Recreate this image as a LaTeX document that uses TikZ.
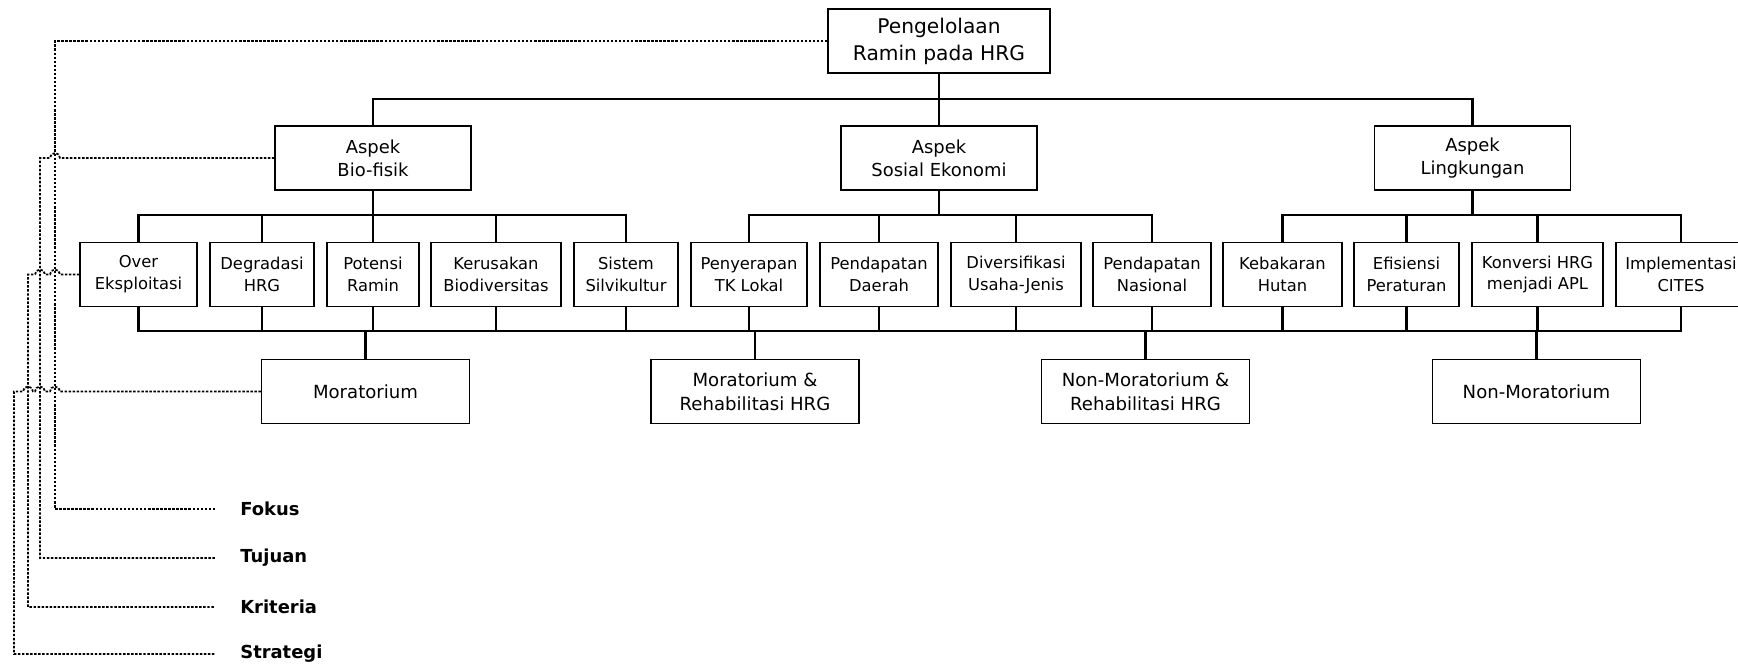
\documentclass[tikz,border=0pt]{standalone}
\usepackage{fontspec}
\setmainfont{DejaVu Sans}
\usetikzlibrary{positioning, calc}
\tikzset{
  box/.style  = {rectangle, draw=black, line width=0.65pt, align=center,
                 inner sep=0pt, minimum height=1.28cm},
  conn/.style = {line width=1.2pt},
  dline/.style = {line width=1pt, dash pattern=on 1.4pt off 0.9pt},
}
\begin{document}
\begin{tikzpicture}[
  x=0.02cm, y=-0.02cm,
  topbox/.style={box, minimum width=4.44cm, font=\fontsize{11.5}{15.3}\selectfont},
  abox/.style={box, minimum width=3.92cm, font=\fontsize{10.2}{13}\selectfont},
  kbox/.style={box, font=\fontsize{9.3}{12.5}\selectfont},
  sbox/.style={box, minimum width=4.16cm, font=\fontsize{10.3}{13.6}\selectfont},
  lvl/.style={inner sep=0pt, font=\fontsize{10.2}{12}\selectfont\bfseries},
]
  \useasboundingbox (0,0) rectangle (1738,667);
  \clip (0,0) rectangle (1738,667);

  % fokus dan tujuan
  \node[topbox] (top) at (939,41) {Pengelolaan\\Ramin pada HRG};
  \node[abox] (bio)  at (373,158)    {Aspek\\Bio-fisik};
  \node[abox] (sos)  at (939,158)    {Aspek\\Sosial Ekonomi};
  \node[abox] (ling) at (1472.5,158) {Aspek\\Lingkungan};

  % kriteria
  \foreach \n/\x/\w/\t in {
      k1/138.5/2.34/{Over\\Eksploitasi},
      k2/262/2.08/{Degradasi\\HRG},
      k3/373/1.84/{Potensi\\Ramin},
      k4/496/2.6/{Kerusakan\\Biodiversitas},
      k5/626/2.08/{Sistem\\Silvikultur},
      k6/749/2.32/{Penyerapan\\TK Lokal},
      k7/879/2.36/{Pendapatan\\Daerah},
      k8/1016/2.6/{Diversifikasi\\Usaha-Jenis},
      k9/1152/2.36/{Pendapatan\\Nasional},
      k10/1282.5/2.38/{Kebakaran\\Hutan},
      k11/1406.5/2.1/{Efisiensi\\Peraturan},
      k12/1537.5/2.62/{Konversi HRG\\menjadi APL},
      k13/1681/2.6/{Implementasi\\CITES}}
    \node[kbox, minimum width=\w cm] (\n) at (\x,274.5) {\t};

  % strategi
  \node[sbox] (s1) at (365.5,391.5)  {Moratorium};
  \node[sbox] (s2) at (755,391.5)    {Moratorium \&\\Rehabilitasi HRG};
  \node[sbox] (s3) at (1145.5,391.5) {Non-Moratorium \&\\Rehabilitasi HRG};
  \node[sbox] (s4) at (1536.5,391.5) {Non-Moratorium};

  \coordinate (busa) at (0,99);
  \coordinate (busb) at (0,215);
  \coordinate (busc) at (0,331);

  \draw[conn] (top.south) -- (sos.north);
  \draw[conn] (bio.north) |- (ling.north |- busa) -- (ling.north);

  \draw[conn] (bio.south) -- (bio.south |- busb);
  \draw[conn] (k1.north) |- (k5.north |- busb) -- (k5.north);
  \draw[conn] (sos.south) -- (sos.south |- busb);
  \draw[conn] (k6.north) |- (k9.north |- busb) -- (k9.north);
  \draw[conn] (ling.south) -- (ling.south |- busb);
  \draw[conn] (k10.north) |- (k13.north |- busb) -- (k13.north);
  \foreach \i in {2,3,4,7,8,11,12}
    \draw[conn] (k\i.north) -- (k\i.north |- busb);

  \draw[conn] (k1.south) |- (k13.south |- busc) -- (k13.south);
  \foreach \i in {2,...,12}
    \draw[conn] (k\i.south) -- (k\i.south |- busc);
  \foreach \i in {1,...,4}
    \draw[conn] (s\i.north) -- (s\i.north |- busc);

  % tingkat hierarki
  \coordinate (fend) at (215,509);
  \coordinate (tend) at (215,558);
  \coordinate (kend) at (215,607);
  \coordinate (send) at (215,654);
  \node[lvl, right=0.5cm of fend] (lfok) {Fokus};
  \node[lvl, right=0.5cm of tend] (ltuj) {Tujuan};
  \node[lvl, right=0.5cm of kend] (lkri) {Kriteria};
  \node[lvl, right=0.5cm of send] (lstr) {Strategi};

  \draw[dline] (top.west) -| (55,509) -- (fend);
  \draw[dline] (bio.west) -- (60,158) arc (0:180:0.1cm)
    -- (40,158) -- (40,558) -- (tend);
  \draw[dline] (k1.west) -- (60,274.5) arc (0:180:0.1cm)
    -- (45,274.5) arc (0:180:0.1cm) -- (28,274.5) -- (28,607) -- (kend);
  \draw[dline] (s1.west) -- (60,391.5) arc (0:180:0.1cm)
    -- (45,391.5) arc (0:180:0.1cm) -- (33,391.5) arc (0:180:0.1cm)
    -- (14,391.5) -- (14,654) -- (send);
\end{tikzpicture}
\end{document}
